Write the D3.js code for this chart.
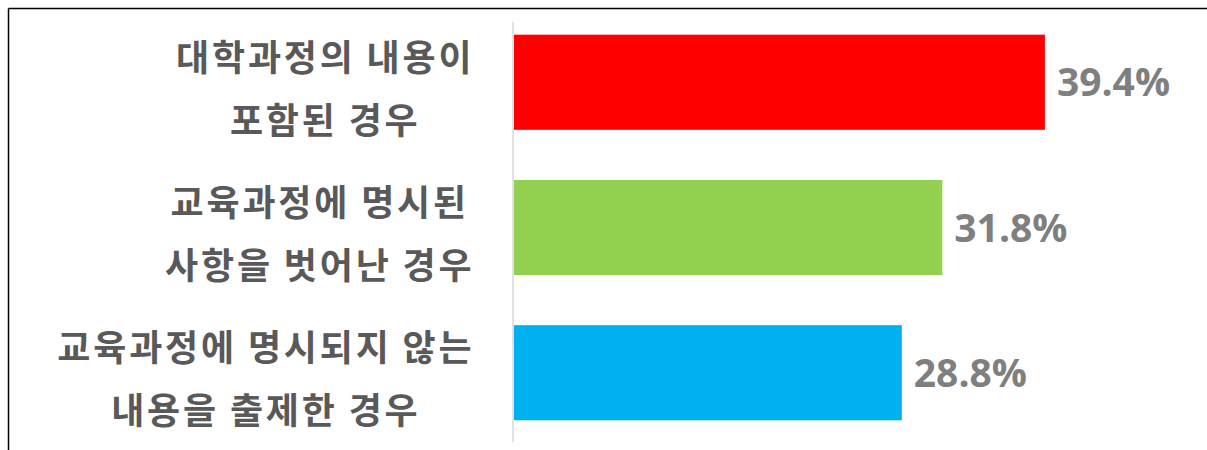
<!DOCTYPE html>
<html>
<head>
<meta charset="utf-8">
<script src="https://cdn.jsdelivr.net/npm/d3@7"></script>
<style>
  html, body { margin: 0; padding: 0; background: #fff; }
  svg { display: block; }
</style>
</head>
<body>
<svg id="chart" width="1207" height="450"></svg>
<script>
const categories = ["cat1", "cat2", "cat3"];
const labelLines = [
  ["대학과정의 내용이", "포함된 경우"],
  ["교육과정에 명시된", "사항을 벗어난 경우"],
  ["교육과정에 명시되지 않는", "내용을 출제한 경우"]
];
const values = [39.4, 31.8, 28.8];
const colors = ["#ff0000", "#92d050", "#00b0f0"];

const svg = d3.select("#chart");
const W = 1207, H = 450;

// frame (top and left border)
svg.append("line").attr("x1", 8.5).attr("x2", W).attr("y1", 8.5).attr("y2", 8.5)
  .attr("stroke", "#000").attr("stroke-width", 1.5);
svg.append("line").attr("x1", 8.5).attr("x2", 8.5).attr("y1", 8.5).attr("y2", H)
  .attr("stroke", "#000").attr("stroke-width", 1.5);

const x = d3.scaleLinear().domain([0, 50]).range([513, 513 + 675]);
const y = d3.scaleBand().domain(categories).range([10, 445]).paddingInner(0.345).paddingOuter(0.17);

// axis line
svg.append("line").attr("x1", x(0)).attr("x2", x(0)).attr("y1", 22).attr("y2", 442)
  .attr("stroke", "#d9d9d9").attr("stroke-width", 1.5);

svg.selectAll("rect.bar").data(values).join("rect")
  .attr("class", "bar")
  .attr("x", x(0) + 1)
  .attr("y", (d, i) => y(categories[i]))
  .attr("width", d => x(d) - x(0) - 1)
  .attr("height", y.bandwidth())
  .attr("fill", (d, i) => colors[i]);

svg.selectAll("text.val").data(values).join("text")
  .attr("class", "val")
  .attr("x", d => x(d) + 12)
  .attr("y", (d, i) => y(categories[i]) + y.bandwidth() / 2)
  .attr("dy", "0.36em")
  .attr("font-family", "'Open Sans', sans-serif")
  .attr("font-weight", 700)
  .attr("font-size", 39)
  .attr("fill", "#7f7f7f")
  .text(d => d.toFixed(1) + "%");

const labelRight = 473;
const lineGap = 63;
const ls = 2.8;
labelLines.forEach((lines, i) => {
  const cy = y(categories[i]) + y.bandwidth() / 2 + 7;
  const g = svg.append("g");
  const texts = lines.map((t, j) => g.append("text")
    .attr("font-family", "'Noto Sans CJK KR', sans-serif")
    .attr("font-weight", 700)
    .attr("font-size", 36)
    .attr("letter-spacing", ls)
    .attr("fill", "#595959")
    .attr("text-anchor", "middle")
    .attr("y", cy + (j - (lines.length - 1) / 2) * lineGap)
    .attr("dy", "0.36em")
    .text(t));
  const maxW = d3.max(texts, t => t.node().getComputedTextLength());
  texts.forEach(t => t.attr("x", labelRight - maxW / 2 + ls / 2));
});
</script>
</body>
</html>
